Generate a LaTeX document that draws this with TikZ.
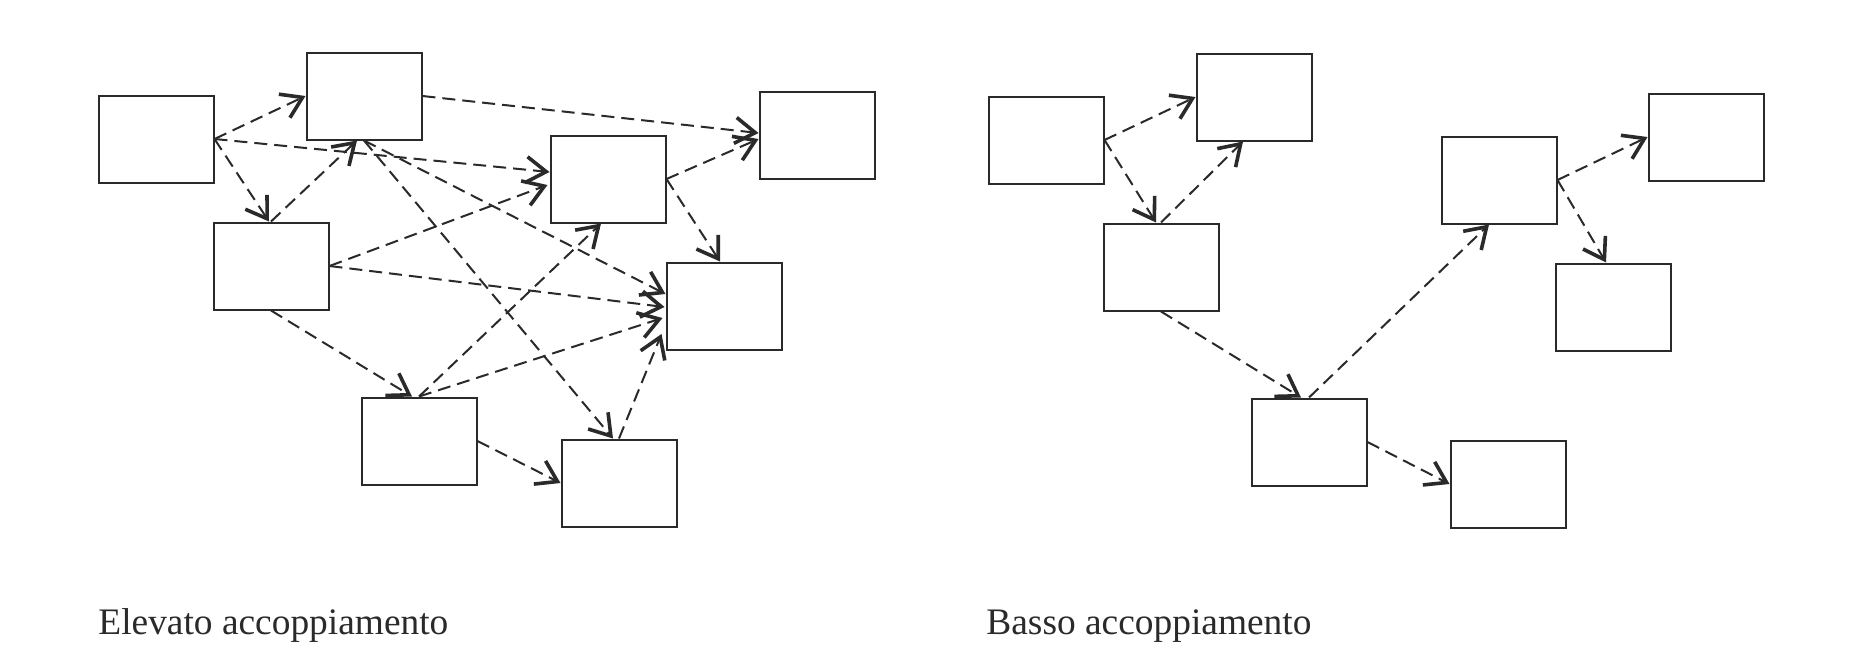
\documentclass[tikz,border=0pt]{standalone}
\usepackage{fontspec}
\setmainfont{Liberation Serif}
\usetikzlibrary{arrows.meta,calc}
\definecolor{ink}{HTML}{2A2A2A}
\tikzset{
  box/.style={draw=ink, line width=1pt, fill=white, minimum width=57.5pt, minimum height=43.5pt, inner sep=0pt},
  link/.style={draw=ink, line width=1pt, dash pattern=on 6.5pt off 3.5pt,
    -{Straight Barb[length=10pt,width=13pt,line width=1.8pt]}},
  caption/.style={anchor=base west, inner sep=0pt, font=\fontsize{18.7}{22}\selectfont, text=ink}
}
\begin{document}
\begin{tikzpicture}[x=0.5pt,y=-0.5pt]
\useasboundingbox (0,0) rectangle (1850,654);
% ---- left: high coupling
\node[box] (A) at (156,139) {};
\node[box] (B) at (364,96) {};
\node[box] (C) at (271,266) {};
\node[box] (D) at (608,179) {};
\node[box] (E) at (817,135) {};
\node[box] (F) at (724,306) {};
\node[box] (G) at (419,441) {};
\node[box] (H) at (619,483) {};
\draw[link] (A.east) -- (B.west);
\draw[link] (A.east) -- ($(C.north)+(-2,0)$);
\draw[link] (A.east) -- ($(D.west)+(0,-7)$);
\draw[link] (B.east) -- ($(E.west)+(0,-2)$);
\draw[link] (C.north) -- ($(B.south)+(-7,0)$);
\draw[link] (B.south) -- ($(F.west)+(0,-12)$);
\draw[link] (B.south) -- ($(H.north)+(-6,0)$);
\draw[link] (D.east) -- ($(E.west)+(0,4)$);
\draw[link] (D.east) -- ($(F.north)+(-4,0)$);
\draw[link] (C.east) -- ($(D.west)+(-2,6)$);
\draw[link] (C.east) -- ($(F.west)+(-1,1)$);
\draw[link] (C.south) -- ($(G.north)+(-7,0)$);
\draw[link] (G.north) -- ($(D.south)+(-7,0)$);
\draw[link] (G.north) -- ($(F.west)+(-3,12)$);
\draw[link] (G.east) -- (H.west);
\draw[link] (H.north) -- ($(F.west)+(-4,28)$);
% ---- right: low coupling
\node[box] (A2) at (1046,140) {};
\node[box] (B2) at (1254,97) {};
\node[box] (C2) at (1161,267) {};
\node[box] (D2) at (1499,180) {};
\node[box] (E2) at (1706,137) {};
\node[box] (F2) at (1613,307) {};
\node[box] (G2) at (1309,442) {};
\node[box] (H2) at (1508,484) {};
\draw[link] (A2.east) -- (B2.west);
\draw[link] (A2.east) -- ($(C2.north)+(-5,0)$);
\draw[link] (C2.north) -- ($(B2.south)+(-11,0)$);
\draw[link] (C2.south) -- ($(G2.north)+(-8,0)$);
\draw[link] (G2.north) -- ($(D2.south)+(-10,0)$);
\draw[link] (G2.east) -- (H2.west);
\draw[link] (D2.east) -- (E2.west);
\draw[link] (D2.east) -- ($(F2.north)+(-7,0)$);
% ---- captions
\node[caption] (capL) at (98,634) {Elevato accoppiamento};
\node[caption] (capR) at (986,634) {Basso accoppiamento};
\end{tikzpicture}
\end{document}
